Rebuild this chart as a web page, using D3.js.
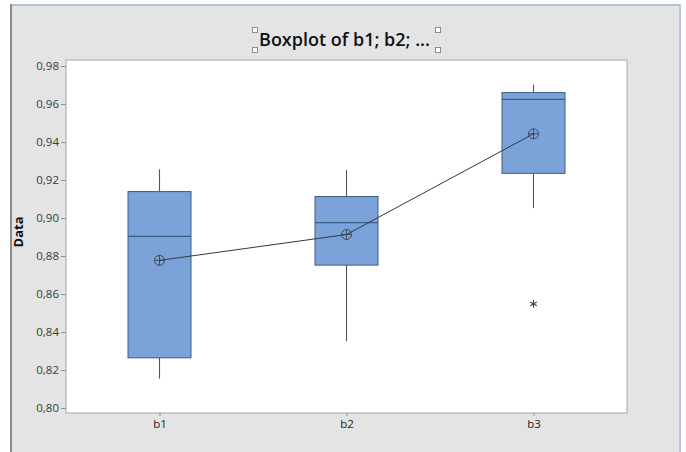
<!DOCTYPE html>
<html>
<head>
<meta charset="utf-8">
<script src="https://cdn.jsdelivr.net/npm/d3@7"></script>
<style>
  html, body { margin: 0; padding: 0; background: #ffffff; }
  svg { display: block; }
</style>
</head>
<body>
<svg id="chart" width="686" height="452"></svg>
<script>
// Boxplot summary values per column
const categories  = ["b1", "b2", "b3"];
const whiskerLow  = [0.8155, 0.8352, 0.9052];
const q1          = [0.8264, 0.8752, 0.9235];
const medians     = [0.8903, 0.8976, 0.9624];
const q3          = [0.9139, 0.9113, 0.9660];
const whiskerHigh = [0.9256, 0.9253, 0.9702];
const means       = [0.8777, 0.8913, 0.9443];
const outlierCats   = ["b3"];
const outlierValues = [0.8548];
const yTicks = [0.80, 0.82, 0.84, 0.86, 0.88, 0.90, 0.92, 0.94, 0.96, 0.98];

const svg = d3.select("#chart");
const W = 686, H = 452;
const font = "'Open Sans', 'Noto Sans', sans-serif";

// Window panel
svg.append("rect").attr("x", 11).attr("y", 4).attr("width", 670).attr("height", H - 4)
  .attr("fill", "#e4e4e4");
svg.append("line").attr("x1", 11).attr("x2", 681).attr("y1", 5).attr("y2", 5)
  .attr("stroke", "#b4c4d8").attr("stroke-width", 2);
svg.append("line").attr("x1", 11).attr("x2", 11).attr("y1", 4).attr("y2", H)
  .attr("stroke", "#8a8a8a").attr("stroke-width", 2);
svg.append("line").attr("x1", 680).attr("x2", 680).attr("y1", 4).attr("y2", H)
  .attr("stroke", "#b9c8dc").attr("stroke-width", 2);

// Plot frame
const frame = { left: 66, right: 627, top: 60, bottom: 413 };
svg.append("rect")
  .attr("x", frame.left).attr("y", frame.top)
  .attr("width", frame.right - frame.left).attr("height", frame.bottom - frame.top)
  .attr("fill", "#ffffff").attr("stroke", "#a8a8a8").attr("stroke-width", 1);

const x = d3.scalePoint().domain(categories).range([frame.left, frame.right]).padding(0.5);
const y = d3.scaleLinear().domain([0.80, 0.98]).range([408, 66]);
const halfW = 31.5;

// Y axis
const yAxis = d3.axisLeft(y).tickValues(yTicks).tickSize(5).tickPadding(2)
  .tickFormat(d => d3.format(".2f")(d).replace(".", ","));
const gy = svg.append("g").attr("transform", `translate(${frame.left},0)`).call(yAxis);
gy.select(".domain").remove();
gy.selectAll("line").attr("stroke", "#909090");
gy.selectAll("text").attr("fill", "#3a3a3a").attr("font-size", 11.5).attr("font-family", font);

// X axis
const xAxis = d3.axisBottom(x).tickSize(3).tickPadding(4);
const gx = svg.append("g").attr("transform", `translate(0,${frame.bottom})`).call(xAxis);
gx.select(".domain").remove();
gx.selectAll("line").attr("stroke", "#909090");
gx.selectAll("text").attr("fill", "#222").attr("font-size", 11.5).attr("font-family", font);

// Y axis title
svg.append("text")
  .attr("transform", `translate(23,232) rotate(-90)`)
  .attr("text-anchor", "middle")
  .attr("font-family", font)
  .attr("font-weight", "bold").attr("font-size", 13).attr("fill", "#111")
  .text("Data");

// Title with selection handles
svg.append("text")
  .attr("x", 344.5).attr("y", 46)
  .attr("text-anchor", "middle")
  .attr("font-family", font)
  .attr("font-weight", 600).attr("font-size", 18).attr("fill", "#111")
  .text("Boxplot of b1; b2; ...");
const handles = [[252, 27], [252, 47], [435, 27], [435, 47]];
svg.selectAll("rect.handle").data(handles).enter().append("rect")
  .attr("class", "handle")
  .attr("x", d => d[0] + 0.5).attr("y", d => d[1] + 0.5).attr("width", 5).attr("height", 5)
  .attr("fill", "#ffffff").attr("stroke", "#8c8c8c").attr("stroke-width", 1)
  .attr("shape-rendering", "crispEdges");

// Boxes
const stats = categories.map((c, i) => ({
  c, lo: whiskerLow[i], q1: q1[i], med: medians[i], q3: q3[i], hi: whiskerHigh[i], mean: means[i]
}));
const g = svg.append("g");
stats.forEach(s => {
  const cx = x(s.c);
  g.append("line").attr("x1", cx).attr("x2", cx).attr("y1", y(s.hi)).attr("y2", y(s.q3))
    .attr("stroke", "#555").attr("stroke-width", 1.1);
  g.append("line").attr("x1", cx).attr("x2", cx).attr("y1", y(s.q1)).attr("y2", y(s.lo))
    .attr("stroke", "#555").attr("stroke-width", 1.1);
  g.append("rect").attr("x", cx - halfW).attr("y", y(s.q3))
    .attr("width", 2 * halfW).attr("height", y(s.q1) - y(s.q3))
    .attr("fill", "#7ba3d9").attr("stroke", "#3f5c82").attr("stroke-width", 1);
  g.append("line").attr("x1", cx - halfW).attr("x2", cx + halfW)
    .attr("y1", y(s.med)).attr("y2", y(s.med))
    .attr("stroke", "#3f5c82").attr("stroke-width", 1.2);
});

// Mean connect line
svg.append("path")
  .datum(stats)
  .attr("d", d3.line().x(d => x(d.c)).y(d => y(d.mean)))
  .attr("fill", "none").attr("stroke", "#2f3a48").attr("stroke-width", 1);

// Mean symbols (circle with cross)
stats.forEach(s => {
  const cx = x(s.c), cy = y(s.mean), r = 5;
  const m = svg.append("g").attr("stroke", "#3a3f48").attr("stroke-width", 0.9).attr("fill", "none");
  m.append("circle").attr("cx", cx).attr("cy", cy).attr("r", r);
  m.append("line").attr("x1", cx - r).attr("x2", cx + r).attr("y1", cy).attr("y2", cy);
  m.append("line").attr("x1", cx).attr("x2", cx).attr("y1", cy - r).attr("y2", cy + r);
});

// Outliers (asterisk)
outlierCats.forEach((c, i) => {
  const cx = x(c), cy = y(outlierValues[i]);
  svg.append("path")
    .attr("d", d3.symbol().type(d3.symbolAsterisk).size(40)())
    .attr("transform", `translate(${cx},${cy})`)
    .attr("fill", "none").attr("stroke", "#444").attr("stroke-width", 1.1);
});
</script>
</body>
</html>
